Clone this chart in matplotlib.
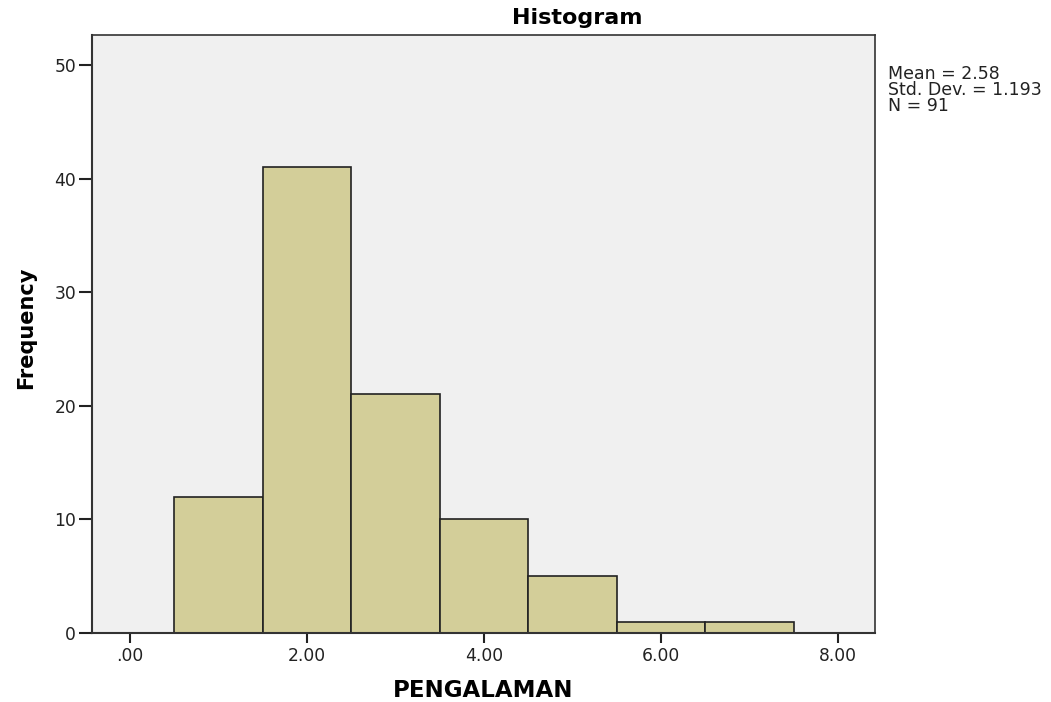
import matplotlib
matplotlib.use('Agg')
import matplotlib.pyplot as plt

# histogram bins (width 1, centred on integers)
bin_centers = [1, 2, 3, 4, 5, 6, 7]
counts = [12, 41, 21, 10, 5, 1, 1]
x_ticks = [0, 2, 4, 6, 8]
x_tick_labels = ['.00', '2.00', '4.00', '6.00', '8.00']
y_ticks = [0, 10, 20, 30, 40, 50]
stats_text = 'Mean = 2.58\nStd. Dev. = 1.193\nN = 91'

plt.rcParams['font.family'] = ['DejaVu Sans']

W, H = 1051, 702
fig = plt.figure(figsize=(W / 100, H / 100), dpi=100)
ax = fig.add_axes([92 / W, 1 - 633 / H, (875 - 92) / W, (633 - 35) / H])
ax.set_facecolor('#f0f0f0')

ax.bar(bin_centers, counts, width=1.0, color='#d3ce99', edgecolor='#222222',
       linewidth=1.2, zorder=2)

ax.set_xlim(-0.43, 8.42)
ax.set_ylim(0, 52.64)
ax.set_xticks(x_ticks)
ax.set_xticklabels(x_tick_labels)
ax.set_yticks(y_ticks)
ax.tick_params(axis='both', direction='out', labelsize=12.3, color='#222222',
               width=1.5, labelcolor='#222222')
ax.tick_params(axis='y', length=9.5, pad=2)
ax.tick_params(axis='x', length=7, pad=3)

for side in ['top', 'right', 'left', 'bottom']:
    ax.spines[side].set_color('#333333')
    ax.spines[side].set_linewidth(1.2)
ax.spines['bottom'].set_linewidth(1.5)
ax.spines['left'].set_linewidth(1.5)

fig.text(577 / W, 1 - 24 / H, 'Histogram', fontsize=16, fontweight='bold',
         ha='center', va='baseline')
fig.text(483 / W, 1 - 697 / H, 'PENGALAMAN', fontsize=16.5, fontweight='bold',
         ha='center', va='baseline')
fig.text(26 / W, 1 - 328 / H, 'Frequency', fontsize=15, fontweight='bold',
         rotation=90, ha='center', va='center')

fig.text(888 / W, 1 - 65 / H, stats_text, fontsize=12.5, va='top', ha='left',
         linespacing=0.85, color='#222222')

fig.savefig('out.png', dpi=100)
